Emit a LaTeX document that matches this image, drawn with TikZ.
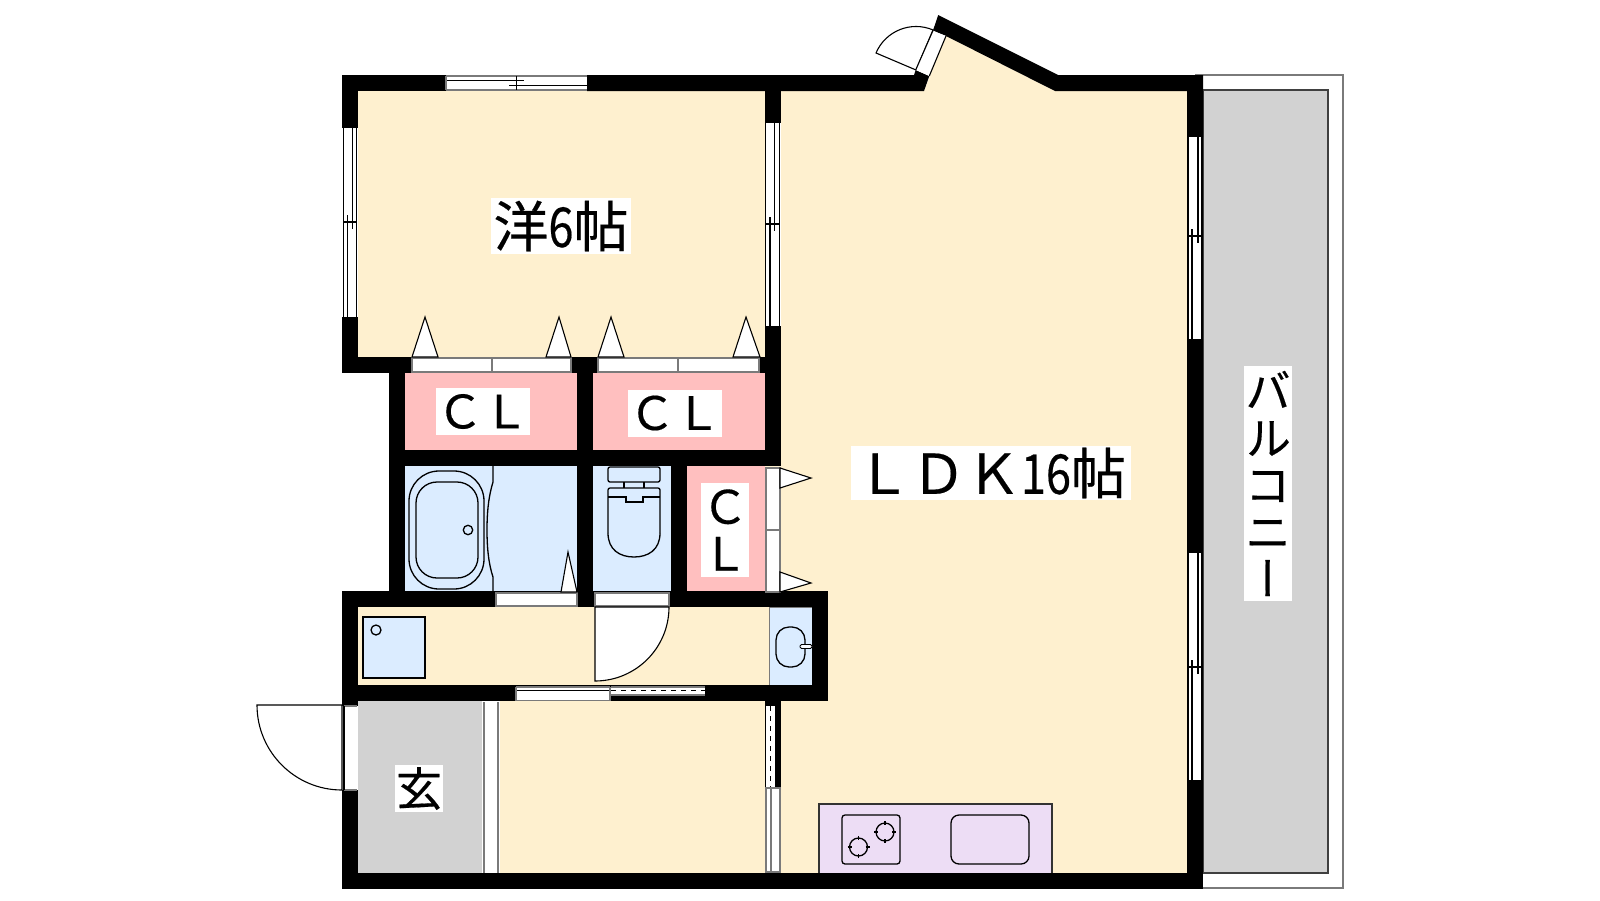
\documentclass[tikz,border=0pt]{standalone}
\usepackage{fontspec}
\newfontfamily\jp[FakeBold=0.35]{Noto Sans CJK JP}
\newfontfamily\jpn[FakeBold=0.35,FakeStretch=0.82]{Noto Sans CJK JP}
\newfontfamily\jpv[RawFeature=+vert,FakeBold=0.35]{Noto Sans CJK JP}
\definecolor{cream}{HTML}{FEF0CF}
\definecolor{pinkroom}{HTML}{FFBFBF}
\definecolor{bluewet}{HTML}{DBECFF}
\definecolor{grayfloor}{HTML}{D2D2D2}
\definecolor{lav}{HTML}{EDDDF5}
\definecolor{edge}{HTML}{7A7A7A}
\tikzset{
  wall/.style={fill=black,draw=none},
  thin line/.style={draw=black,line width=1.1pt},
  edge line/.style={draw=edge,line width=1.1pt},
  pane/.style={fill=white,draw=edge,line width=1.1pt},
  leaf/.style={fill=white,draw=black,line width=1.1pt,line join=miter},
  fixture/.style={draw=black,line width=1.3pt},
  lab/.style={fill=white,inner sep=0pt,font=\jp,align=center,anchor=center},
  big/.style={lab,font=\jp\fontsize{55pt}{56pt}\selectfont},
  mid/.style={lab,font=\jp\fontsize{46pt}{47pt}\selectfont},
}
\newcommand{\vwindow}[7]{%
  \fill[white] (#1,#5) rectangle (#4,#6);
  \draw[thin line] (#1,#5) -- (#1,#6) (#4,#5) -- (#4,#6)
    (#3,#5) -- (#3,#7+7) (#2,#7-7) -- (#2,#6) (#1,#7) -- (#4,#7);
}
\newcommand{\burner}[2]{%
  \draw[fixture] (#1,#2) circle[radius=9];
  \draw[fixture] (#1-11,#2) -- (#1-7,#2) (#1+7,#2) -- (#1+11,#2)
    (#1,#2-11) -- (#1,#2-7) (#1,#2+7) -- (#1,#2+11);
}
\begin{document}
\begin{tikzpicture}[x=1pt,y=-1pt]
\useasboundingbox (0,0) rectangle (1600,900);
\fill[white] (0,0) rectangle (1600,900);
% balcony
\draw[edge line,fill=white] (1196,75) rectangle (1343,888);
\filldraw[fill=grayfloor,draw=black!75,line width=1.1pt] (1203,90) rectangle (1328,873);
% floors
\fill[cream] (358,91) rectangle (765,357);
\fill[cream] (781,91) -- (924,91) -- (946,36) -- (1055,91) -- (1187,91) -- (1187,873) -- (781,873) -- cycle;
\fill[cream] (765,466) rectangle (781,591);
\fill[cream] (358,607) rectangle (812,685);
\fill[cream] (500,701) rectangle (765,873);
\fill[pinkroom] (405,373) rectangle (577,450);
\fill[pinkroom] (593,373) rectangle (765,450);
\fill[pinkroom] (687,466) rectangle (765,591);
\fill[bluewet] (405,466) rectangle (577,591);
\fill[bluewet] (593,466) rectangle (671,591);
\filldraw[fill=bluewet,draw=edge,line width=1pt] (769,607) rectangle (812,685);
\fill[grayfloor] (358,701) rectangle (482,873);
% walls
\fill[wall] (342,75) rectangle (446,91);
\fill[wall] (587,75) -- (914,75) -- (915.7,70) -- (929.3,76) -- (924,91) -- (587,91) -- cycle;
\fill[wall] (938.2,15) -- (1058,75) -- (1203,75) -- (1203,137) -- (1187,137) -- (1187,91) -- (1055,91) -- (946,36) -- (932.9,30.7) -- cycle;
\fill[wall] (342,75) rectangle (358,128);
\fill[wall] (342,317) rectangle (358,373);
\fill[wall] (342,357) rectangle (781,373);
\fill[wall] (765,75) rectangle (781,123);
\fill[wall] (765,326) rectangle (781,466);
\fill[wall] (389,357) rectangle (405,607);
\fill[wall] (577,357) rectangle (593,607);
\fill[wall] (389,450) rectangle (781,466);
\fill[wall] (671,466) rectangle (687,607);
\fill[wall] (342,591) rectangle (828,607);
\fill[wall] (342,591) rectangle (358,706);
\fill[wall] (342,790) rectangle (358,889);
\fill[wall] (812,591) rectangle (828,701);
\fill[wall] (342,685) rectangle (828,701);
\fill[wall] (342,873) rectangle (1203,889);
\fill[wall] (1187,339) rectangle (1203,553);
\fill[wall] (1187,780) rectangle (1203,889);
\fill[wall] (765,701) rectangle (781,788);
% top window
\fill[white] (446,76) rectangle (587,90);
\draw[edge line] (446,76) -- (587,76) (446,90) -- (587,90);
\draw[thin line] (446,80.3) -- (524,80.3) (509,85.7) -- (587,85.7) (516.7,76) -- (516.7,90);
\draw[edge line] (446,76) -- (446,90);
% other windows
\vwindow{343.5}{347.5}{352.5}{356.5}{128}{317}{222}
\vwindow{765.5}{770}{774.5}{779.5}{123}{326}{224}
\vwindow{1188}{1192}{1198}{1202}{137}{339}{236}
\vwindow{1188}{1192}{1198}{1202}{553}{780}{667}
% closet doors
\draw[pane] (412,358) rectangle (492,372);
\draw[pane] (492,358) rectangle (571,372);
\draw[pane] (598,358) rectangle (678,372);
\draw[pane] (678,358) rectangle (759,372);
\draw[leaf] (412,357) -- (425,317) -- (438,357) -- cycle;
\draw[leaf] (546,357) -- (559,317) -- (571,357) -- cycle;
\draw[leaf] (598,357) -- (611,317) -- (624,357) -- cycle;
\draw[leaf] (733,357) -- (746,317) -- (760,357) -- cycle;
\draw[pane] (766,468) rectangle (780,530);
\draw[pane] (766,530) rectangle (780,592);
\draw[leaf] (780,468) -- (811,478) -- (780,488) -- cycle;
\draw[leaf] (780,572) -- (811,583) -- (780,592) -- cycle;
% bath
\draw[pane] (496,593) rectangle (577,606);
\draw[leaf] (561,592) -- (568,552) -- (577,592) -- cycle;
\draw[fixture] (493,466) -- (493,482) .. controls (489,495) and (487,510) .. (487,530) .. controls (487,550) and (489,565) .. (493,577) -- (493,591);
\draw[fixture,rounded corners=30pt] (409,471) rectangle (484,589);
\draw[fixture,rounded corners=21pt] (416,482) rectangle (478,578);
\draw[fixture] (468,530) circle[radius=4.7];
% toilet
\draw[fixture,rounded corners=2pt] (608,467) rectangle (660,482);
\draw[fixture] (624,482) -- (624,488) (644,482) -- (644,488);
\draw[fixture,rounded corners=2pt] (608,533) -- (608,488) -- (660,488) -- (660,533);
\draw[fixture] (608,533) .. controls (608,550) and (620,557) .. (634,557) .. controls (648,557) and (660,550) .. (660,533);
\draw[fixture] (608,497) -- (626,497) -- (626,502) -- (643,502) -- (643,497) -- (660,497);
% toilet door
\draw[pane] (595,593) rectangle (669,606);
\draw[leaf] (595,607) -- (669,607) arc[start angle=0,end angle=90,radius=74] -- cycle;
% hall
\filldraw[fill=bluewet,draw=black,line width=1.1pt] (363,617) rectangle (425,678);
\draw[fixture] (376,630) circle[radius=5];
\draw[fixture,rounded corners=13pt] (776,627) rectangle (805,667);
\draw[draw=black,line width=0.8pt,fill=white!80!bluewet,rounded corners=1.5pt] (800,644.5) rectangle (812,648.5);
% sliding door
\fill[white] (516,687) rectangle (610,701);
\draw[edge line] (516,687) -- (610,687) (516,700.5) -- (610,700.5);
\draw[thin line] (516,690.6) -- (610,690.6);
\draw[edge line] (516,687) -- (516,701) (610,687) -- (610,701);
\fill[white] (611,687) rectangle (705,695);
\draw[edge line] (611,687) -- (705,687);
\draw[thin line,dash pattern=on 5pt off 5pt] (611,690.6) -- (705,690.6);
\draw[edge line] (611,695) -- (705,695);
\fill[wall] (611,696) rectangle (705,701);
% partition sliding
\fill[white] (766,706) rectangle (775,788);
\draw[thin line,dash pattern=on 5pt off 5pt] (770.5,706) -- (770.5,788);
\fill[white] (766,788) rectangle (780,872);
\draw[edge line] (766,788) rectangle (780,872);
\draw[edge line] (771,788) -- (771,872);
% step
\fill[white] (482,702) rectangle (500,873);
\draw[edge line] (484,702) -- (484,873) (498,702) -- (498,873);
% entrance
\draw[leaf] (342,705) -- (257,705) arc[start angle=180,end angle=90,radius=85] -- cycle;
\fill[white] (344,706) rectangle (357,790);
\draw[edge line] (344,706) -- (357,706) (344,790) -- (357,790);
\draw[thin line] (344,706) -- (344,790);
% bump door
\draw[leaf] (916,70) -- (876,53) arc[start angle=203,end angle=293,radius=43.5] -- cycle;
\fill[white] (915.7,70) -- (929.3,76) -- (946,36) -- (932.9,30.7) -- cycle;
\draw[thin line] (915.7,70) -- (932.9,30.7) (929.3,76) -- (946,36);
% kitchen
\filldraw[fill=lav,draw=black!80,line width=1.1pt] (819,873) -- (819,804) -- (1052,804) -- (1052,873);
\draw[fixture,rounded corners=3pt] (842,815) rectangle (900,864);
\burner{858.5}{847}
\burner{885}{832}
\draw[fixture,rounded corners=8pt] (951,815) rectangle (1029,864);
% labels
\node[big,minimum width=140pt,minimum height=56pt] (room6) at (561,226) {洋{\jpn 6}帖};
\node[big,minimum width=280pt,minimum height=54pt] (ldk) at (991,473) {ＬＤＫ{\jpn 16}帖};
\node[mid,minimum width=94pt,minimum height=47pt] (cl1) at (483,411.5) {ＣＬ};
\node[mid,minimum width=94pt,minimum height=47pt] (cl2) at (675,413) {ＣＬ};
\node[mid,minimum width=48pt,minimum height=94pt] (cl3) at (725,530) {Ｃ\\Ｌ};
\node[mid,minimum width=48pt,minimum height=47pt] (gen) at (419,788.5) {玄};
\node[lab,font=\jpv\fontsize{46pt}{47pt}\selectfont,minimum width=48pt,minimum height=235pt] (balc) at (1268,483.5) {バ\\ル\\コ\\ニ\\ー};
\end{tikzpicture}
\end{document}
